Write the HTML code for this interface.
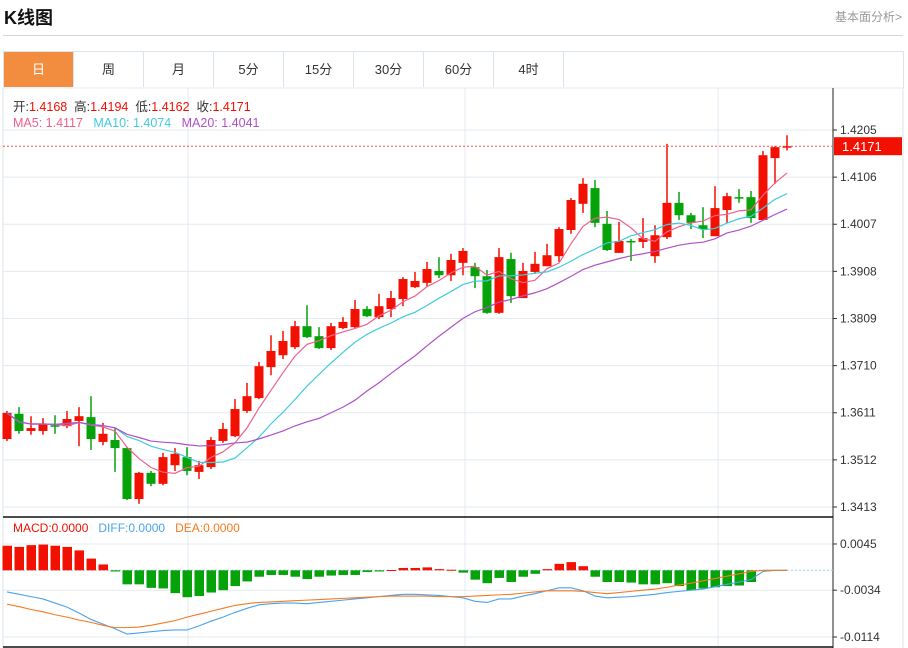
<!DOCTYPE html>
<html><head><meta charset="utf-8"><style>
body{margin:0;width:908px;height:648px;background:#fff;overflow:hidden;font-family:"Liberation Sans","Noto Sans CJK SC",sans-serif;position:relative}
.t{position:absolute;white-space:nowrap}
.tab{position:absolute;top:52px;height:35px;width:69px;border-right:1px solid #dde3ea;font-size:13px;line-height:35px;text-align:center;color:#333}
</style></head><body>
<div class="t" style="left:4px;top:4px;font-size:18px;font-weight:bold;color:#111">K线图</div>
<div class="t" style="right:6px;top:8px;font-size:12px;color:#999">基本面分析&gt;</div>
<div style="position:absolute;left:3px;top:35px;width:900px;height:1px;background:#d4d4d4"></div>
<div style="position:absolute;left:3px;top:51px;width:899px;height:36px;border:1px solid #dde3ea;border-bottom:none"></div>
<div class="tab" style="left:4px;background:#f28c3f;color:#fff">日</div>
<div class="tab" style="left:74px">周</div>
<div class="tab" style="left:144px">月</div>
<div class="tab" style="left:214px">5分</div>
<div class="tab" style="left:284px">15分</div>
<div class="tab" style="left:354px">30分</div>
<div class="tab" style="left:424px">60分</div>
<div class="tab" style="left:494px">4时</div>
<svg id="c" width="908" height="648" style="position:absolute;left:0;top:0" font-family="Liberation Sans, Noto Sans CJK SC, sans-serif"></svg>
<script>
const opens=[13556,13609,13573,13573,13585,13583,13594,13602,13550,13554,13537,13430,13485,13462,13501,13518,13487,13497,13552,13562,13615,13642,13707,13732,13749,13793,13772,13747,13789,13791,13829,13812,13829,13850,13875,13884,13909,13900,13926,13917,13898,13821,13934,13852,13907,13919,13940,13995,14050,14083,14008,13947,13972,13970,13940,13980,14052,14026,14005,13982,14037,14064,14064,14016,14146,14168];
const highs=[13615,13623,13604,13600,13606,13615,13623,13646,13590,13579,13539,13487,13489,13527,13537,13539,13510,13560,13590,13640,13674,13718,13774,13783,13804,13837,13791,13800,13812,13848,13835,13861,13867,13896,13907,13928,13938,13945,13957,13926,13911,13957,13947,13926,13949,13966,14001,14062,14104,14100,14035,14012,13976,14020,14005,14176,14075,14031,14043,14087,14073,14081,14077,14161,14171,14194];
const lows=[13552,13567,13565,13565,13567,13579,13541,13533,13543,13487,13428,13420,13457,13459,13489,13480,13472,13493,13548,13560,13611,13640,13690,13724,13745,13768,13745,13743,13787,13789,13812,13808,13812,13835,13873,13877,13894,13888,13900,13873,13819,13819,13842,13852,13903,13919,13928,13987,14031,14001,13951,13947,13930,13957,13926,13976,14016,13997,13978,13982,14010,14052,14010,14016,14092,14162];
const closes=[13611,13573,13579,13588,13583,13598,13604,13556,13567,13537,13430,13485,13462,13518,13525,13489,13501,13554,13577,13619,13646,13709,13741,13762,13793,13770,13747,13793,13802,13829,13814,13835,13852,13892,13888,13913,13900,13932,13951,13898,13821,13938,13856,13909,13924,13942,13997,14058,14092,14010,13953,13972,13970,13978,13984,14052,14026,14010,13997,14041,14066,14062,14020,14152,14169,14171];
const macdHist=[42,40,43,44,42,40,34,20,10,-2,-24,-24,-30,-31,-39,-46,-44,-38,-34,-27,-19,-11,-8,-8,-11,-15,-11,-9,-8,-8,-3,-2,0.5,4,4,5,2,1,-4,-16,-22,-13,-20,-11,-6,2,11,14,7,-11,-20,-20,-21,-24,-24,-22,-27,-34,-31,-29,-27,-26,-20,0,0,0];
const diffs=[-37,-41,-45,-49,-56,-63,-73,-84,-92,-100,-109,-107,-105,-103,-102,-102,-95,-87,-80,-72,-65,-59,-57,-56,-56,-57,-55,-53,-51,-49,-47,-45,-43,-41,-41,-42,-43,-45,-47,-53,-55,-49,-49,-44,-40,-35,-30,-30,-35,-44,-47,-46,-45,-43,-41,-38,-36,-34,-32,-28,-24,-20,-16,-2,0,0];
const deas=[-58,-62,-67,-71,-76,-80,-85,-89,-94,-98,-98,-97,-94,-90,-86,-80,-75,-70,-65,-60,-57,-55,-54,-53,-52,-51,-50,-49,-48,-47,-46,-45,-44,-44,-44,-44,-45,-45,-45,-44,-43,-42,-41,-39,-37,-35,-35,-35,-36,-38,-40,-38,-36,-34,-32,-29,-25,-22,-18,-14,-10,-6,-2,0,0,0];
const priceTicks=[1.4205,1.4106,1.4007,1.3908,1.3809,1.3710,1.3611,1.3512,1.3413];
const macdTicks=[0.0045,-0.0034,-0.0114];

const svg=document.getElementById('c');
const NS='http://www.w3.org/2000/svg';
function mk(tag,attrs,parent){const e=document.createElementNS(NS,tag);for(const k in attrs)e.setAttribute(k,attrs[k]);(parent||svg).appendChild(e);return e;}
const X=i=>7+12*i;
const Y=p=>130+(14205-p)/2.1;
const YP=v=>130+(1.4205-v)*4760;
const YM=v=>570.3-v*0.585;
const AX=833;

[188,465,718].forEach(x=>{const l=mk('line',{x1:x,y1:88,x2:x,y2:647,stroke:'#e3eaf0'});});
priceTicks.forEach(t=>{const y=YP(t);const l=mk('line',{x1:3,y1:y,x2:AX,y2:y,stroke:'#e3eaf0'});
 mk('line',{x1:AX,y1:y,x2:AX+4,y2:y,stroke:'#333'});
 const tx=mk('text',{x:840,y:y+4,'font-size':12,fill:'#333'});tx.textContent=t.toFixed(4);});
macdTicks.forEach(t=>{const y=YM(t*10000);const l=mk('line',{x1:3,y1:y,x2:AX,y2:y,stroke:'#e3eaf0'});
 mk('line',{x1:AX,y1:y,x2:AX+4,y2:y,stroke:'#333'});
 const tx=mk('text',{x:840,y:y+4,'font-size':12,fill:'#333'});tx.textContent=t.toFixed(4);});
mk('line',{x1:3,y1:88,x2:903,y2:88,stroke:'#e3eaf0'});
mk('line',{x1:3,y1:88,x2:3,y2:648,stroke:'#dde3ea'});
mk('line',{x1:903,y1:88,x2:903,y2:648,stroke:'#dde3ea'});
const ax=mk('line',{x1:AX,y1:88,x2:AX,y2:648,stroke:'#222'});
const sep=mk('line',{x1:3,y1:517,x2:AX,y2:517,stroke:'#111','stroke-width':1.5});
mk('line',{x1:3,y1:647,x2:AX,y2:647,stroke:'#111','stroke-width':1.5});

for(let i=0;i<opens.length;i++){
 const up=closes[i]>=opens[i];const col=up?'#f21000':'#05a20a';
 const g=mk('g',{});
 mk('line',{x1:X(i),y1:Y(highs[i]),x2:X(i),y2:Y(lows[i]),stroke:col,'stroke-width':1.5},g);
 const t=Y(Math.max(opens[i],closes[i])),b=Y(Math.min(opens[i],closes[i]));
 mk('rect',{x:X(i)-4.5,y:t,width:9,height:Math.max(1.5,b-t),fill:col},g);
}
function ma(n){return closes.map((c,i)=>{const s=closes.slice(Math.max(0,i-n+1),i+1);return s.reduce((a,b)=>a+b,0)/s.length;});}
[[5,'#f0608a','ma5-line'],[10,'#3fcbe0','ma10-line'],[20,'#b050c8','ma20-line']].forEach(([n,c,name])=>{
 const pts=ma(n).map((v,i)=>X(i)+','+Y(v)).join(' ');
 const p=mk('polyline',{points:pts,fill:'none',stroke:c,'stroke-width':1.2});});
const lc=closes[closes.length-1];
const pl=mk('line',{x1:3,y1:Y(lc),x2:AX,y2:Y(lc),stroke:'#f05050','stroke-dasharray':'2,2'});
const lb=mk('rect',{x:834,y:Y(lc)-9,width:68,height:18,fill:'#f21000'});
const lt=mk('text',{x:842,y:Y(lc)+5,'font-size':13,fill:'#fff'});lt.textContent=(lc/10000).toFixed(4);

const zl=mk('line',{x1:3,y1:YM(0),x2:AX,y2:YM(0),stroke:'#9fd0ee','stroke-dasharray':'2,2'});
for(let i=0;i<macdHist.length;i++){const v=macdHist[i];if(v===0)continue;
 const y0=YM(0),y1=YM(v);const r=mk('rect',{x:X(i)-4.5,y:Math.min(y0,y1),width:9.5,height:Math.max(1,Math.abs(y1-y0)),fill:v>0?'#f21000':'#05a20a'});
 }
const dl=mk('polyline',{points:diffs.map((v,i)=>X(i)+','+YM(v)).join(' '),fill:'none',stroke:'#4aa3ef','stroke-width':1.1});
const el=mk('polyline',{points:deas.map((v,i)=>X(i)+','+YM(v)).join(' '),fill:'none',stroke:'#f57a20','stroke-width':1.1});
</script>
<div class="t" style="left:13px;top:96px;font-size:12.5px;color:#333">开:<span style="color:#f21000">1.4168</span>&nbsp;&nbsp;高:<span style="color:#f21000">1.4194</span>&nbsp;&nbsp;低:<span style="color:#f21000">1.4162</span>&nbsp;&nbsp;收:<span style="color:#f21000">1.4171</span></div>
<div class="t" style="left:13px;top:116px;font-size:12.5px"><span style="color:#f0608a">MA5: 1.4117</span>&nbsp;&nbsp;&nbsp;<span style="color:#3fcbe0">MA10: 1.4074</span>&nbsp;&nbsp;&nbsp;<span style="color:#b050c8">MA20: 1.4041</span></div>
<div class="t" style="left:13px;top:521px;font-size:12px"><span style="color:#f21000">MACD:0.0000</span>&nbsp;&nbsp;&nbsp;<span style="color:#4aa3ef">DIFF:0.0000</span>&nbsp;&nbsp;&nbsp;<span style="color:#f57a20">DEA:0.0000</span></div>
</body></html>
